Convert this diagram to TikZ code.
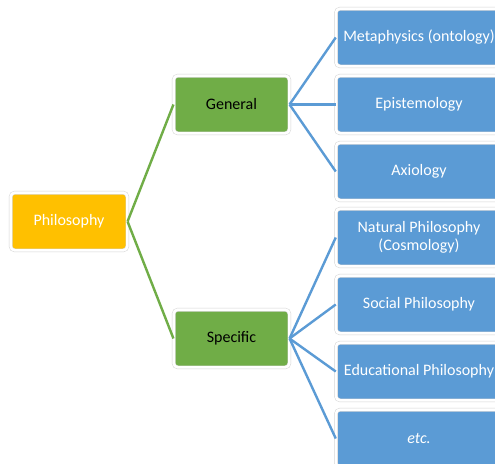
\documentclass[tikz,border=0pt]{standalone}
\usepackage{fontspec}
\setmainfont{Carlito}
\definecolor{rootfill}{HTML}{FFC000}
\definecolor{midfill}{HTML}{70AD47}
\definecolor{leaffill}{HTML}{5B9BD5}
\definecolor{ringgray}{HTML}{D6D6D6}
\tikzset{
  box/.style={rectangle, rounded corners=4pt, inner sep=0pt,
    draw=ringgray, line width=0.5pt, double=white, double distance=2.6pt,
    font=\fontsize{16}{18.5}\selectfont, align=center},
  rootbox/.style={box, fill=rootfill, text=white, minimum width=116.6pt, minimum height=57.6pt},
  midbox/.style={box, fill=midfill, text=black, minimum width=115.6pt, minimum height=57.6pt},
  leafbox/.style={box, fill=leaffill, text=white, minimum width=166pt, minimum height=57.6pt},
  greenlink/.style={draw=midfill, line width=2.4pt},
  bluelink/.style={draw=leaffill, line width=2.4pt}
}
\begin{document}
\begin{tikzpicture}[x=1pt,y=-1pt]
\clip[use as bounding box] (0,0) rectangle (495,463);
\fill[white] (0,0) rectangle (495,463);

% boxes
\node[rootbox] (root) at (69,221.5) {Philosophy};
\node[midbox] (gen) at (231.5,104.5) {General};
\node[midbox] (spec) at (231.5,338.5) {Specific};

\node[leafbox] (meta) at (419,37.5) {Metaphysics (ontology)};
\node[leafbox] (epis) at (419,104.5) {Epistemology};
\node[leafbox] (axio) at (419,171.5) {Axiology};
\node[leafbox] (nat) at (419,237.5) {Natural Philosophy\\(Cosmology)};
\node[leafbox] (soc) at (419,304.5) {Social Philosophy};
\node[leafbox] (edu) at (419,371.5) {Educational Philosophy};
\node[leafbox] (etc) at (419,438.5) {\itshape etc.};

% tree links
\draw[greenlink] (root.east) -- (gen.west);
\draw[greenlink] (root.east) -- (spec.west);
\foreach \t in {meta,epis,axio} \draw[bluelink] (gen.east) -- (\t.west);
\foreach \t in {nat,soc,edu,etc} \draw[bluelink] (spec.east) -- (\t.west);
\end{tikzpicture}
\end{document}
